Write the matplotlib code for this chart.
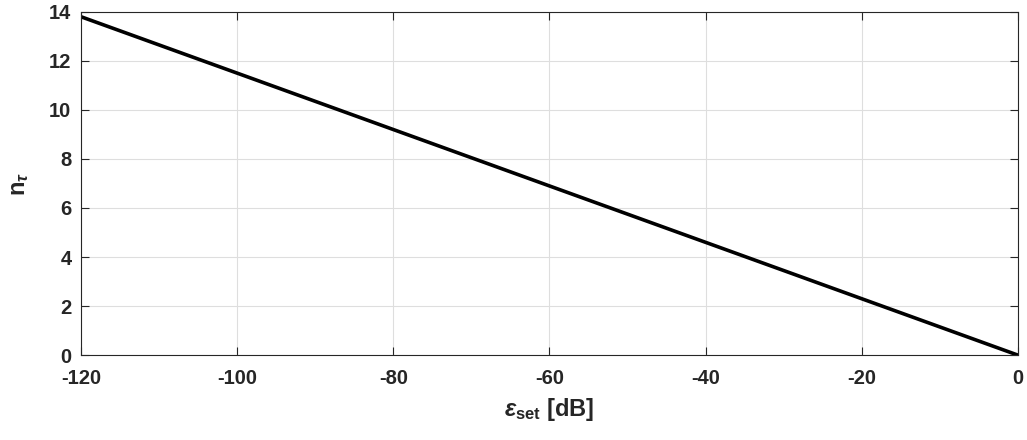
"""Plot n_tau versus epsilon_set in dB."""

import matplotlib

matplotlib.use("Agg")
import matplotlib.pyplot as plt

# values
eps_set_db = [-120, -100, -80, -60, -40, -20, 0]
n_tau = [13.8, 11.5, 9.2, 6.9, 4.6, 2.3, 0.0]

x_ticks = [-120, -100, -80, -60, -40, -20, 0]
y_ticks = [0, 2, 4, 6, 8, 10, 12, 14]


def main() -> None:
    plt.rcParams["font.family"] = ["Liberation Sans", "DejaVu Sans"]
    plt.rcParams["font.weight"] = "bold"
    plt.rcParams["mathtext.fontset"] = "custom"
    plt.rcParams["mathtext.rm"] = "Liberation Sans:bold"
    plt.rcParams["mathtext.it"] = "Liberation Sans:italic:bold"
    plt.rcParams["mathtext.bf"] = "Liberation Sans:bold"

    fig = plt.figure(figsize=(10.27, 4.4), dpi=100)
    ax = fig.add_axes([0.079, 0.193, 0.912, 0.78])

    ax.plot(eps_set_db, n_tau, color="black", linewidth=2.6)

    ax.set_xlim(-120, 0)
    ax.set_ylim(0, 14)
    ax.set_xticks(x_ticks)
    ax.set_yticks(y_ticks)
    ax.set_xticklabels([str(v) for v in x_ticks])
    ax.set_yticklabels([str(v) for v in y_ticks])
    ax.tick_params(direction="in", length=6, width=0.8, colors="#262626",
                   labelsize=14.5, labelcolor="#262626", top=True, right=True,
                   labeltop=False, labelright=False)
    ax.tick_params(axis="x", pad=10)
    ax.tick_params(axis="y", pad=7)
    for spine in ax.spines.values():
        spine.set_color("#262626")
        spine.set_linewidth(0.8)
    ax.grid(True, color="#dedede", linewidth=0.8)
    ax.set_axisbelow(True)

    ax.set_xlabel(r"$\epsilon_{\mathrm{set}}$ [dB]", fontsize=17,
                  fontweight="bold", color="#262626", labelpad=6)
    ax.set_ylabel(r"n$_\tau$", fontsize=17, fontweight="bold",
                  color="#262626", labelpad=13)

    fig.savefig("out.png", dpi=100)


if __name__ == "__main__":
    main()
